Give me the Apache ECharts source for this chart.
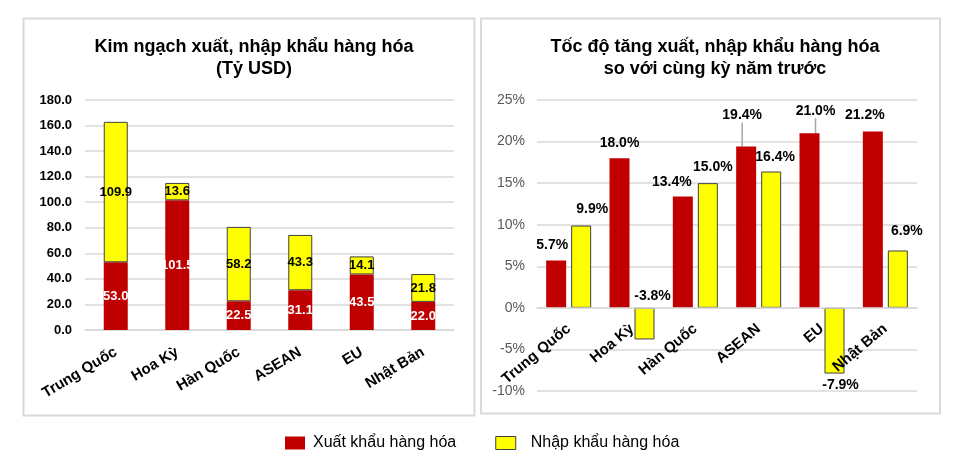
<!DOCTYPE html>
<html>
<head>
<meta charset="utf-8">
<script src="https://cdn.jsdelivr.net/npm/echarts@6/dist/echarts.min.js"></script>
<style>
html,body{margin:0;padding:0;background:#fff;}
#chart{width:959px;height:460px;}
</style>
</head>
<body>
<div id="chart"></div>
<script>
// ---- data ----
const categories = ['Trung Quốc', 'Hoa Kỳ', 'Hàn Quốc', 'ASEAN', 'EU', 'Nhật Bản'];
const exportValues = [53.0, 101.5, 22.5, 31.1, 43.5, 22.0];   // Tỷ USD
const importValues = [109.9, 13.6, 58.2, 43.3, 14.1, 21.8];   // Tỷ USD
const exportGrowth = [5.7, 18.0, 13.4, 19.4, 21.0, 21.2];     // %
const importGrowth = [9.9, -3.8, 15.0, 16.4, -7.9, 6.9];      // %
const leftTicks = [0, 20, 40, 60, 80, 100, 120, 140, 160, 180];
const rightTicks = [-10, -5, 0, 5, 10, 15, 20, 25];
const seriesNames = ['Xuất khẩu hàng hóa', 'Nhập khẩu hàng hóa'];
const titles = ['Kim ngạch xuất, nhập khẩu hàng hóa\n(Tỷ USD)', 'Tốc độ tăng xuất, nhập khẩu hàng hóa\nso với cùng kỳ năm trước'];

// ---- style (label nudges, Excel-like placement) ----
const redNudge = [[-4,-3],[0,-3],[-11,-2],[-4,-19],[6,-10],[-8,-4]];
const yellowNudge = [[11,-4],[8,0],[5,-4],[4,-2],[6,0],[9,-7]];
const yellowPos = ['top','top','top','top','bottom','top'];
const redLeader = [false,false,false,true,true,false];

const FONT = 'Arial, "Liberation Sans", sans-serif';
const RED = '#C00000', YELLOW = '#FFFF00', GRID = '#d9d9d9';

const rightGrid = { left: 537, width: 380, top: 100, height: 291 };
const rMin = rightTicks[0], rMax = rightTicks[rightTicks.length - 1];
// move the category axis of the right chart up to the 0% line
const zeroOffset = -((0 - rMin) / (rMax - rMin)) * rightGrid.height;

const chart = echarts.init(document.getElementById('chart'));

const option = {
  animation: false,
  backgroundColor: '#ffffff',
  textStyle: { fontFamily: FONT },
  graphic: [
    { type: 'rect', silent: true, z: -1, shape: { x: 23.5, y: 18.5, width: 451, height: 397 },
      style: { fill: 'none', stroke: GRID, lineWidth: 2 } },
    { type: 'rect', silent: true, z: -1, shape: { x: 481, y: 18.5, width: 459, height: 395 },
      style: { fill: 'none', stroke: GRID, lineWidth: 2 } }
  ],
  title: [
    { text: titles[0], left: 249, top: 31, textAlign: 'center',
      textStyle: { fontFamily: FONT, fontSize: 18, fontWeight: 'bold', color: '#000', lineHeight: 22 } },
    { text: titles[1], left: 710, top: 31, textAlign: 'center',
      textStyle: { fontFamily: FONT, fontSize: 18, fontWeight: 'bold', color: '#000', lineHeight: 22 } }
  ],
  legend: {
    data: [
      { name: seriesNames[0], itemStyle: { color: RED, borderWidth: 0 } },
      { name: seriesNames[1], itemStyle: { color: YELLOW, borderColor: '#404040', borderWidth: 1 },
        textStyle: { padding: [0, 0, 0, 10] } }
    ],
    left: 280, top: 430,
    itemWidth: 20, itemHeight: 13, itemGap: 39,
    icon: 'rect',
    textStyle: { fontFamily: FONT, fontSize: 16, color: '#000', padding: [0, 0, 0, 3] }
  },
  grid: [
    { left: 85, width: 369, top: 100, height: 230 },
    rightGrid
  ],
  xAxis: [
    { type: 'category', gridIndex: 0, data: categories,
      axisLine: { lineStyle: { color: GRID, width: 1.5 } }, axisTick: { show: false },
      axisLabel: { interval: 0, rotate: 31, margin: 21, fontFamily: FONT, fontSize: 15, fontWeight: 'bold', color: '#000' } },
    { type: 'category', gridIndex: 1, data: categories, offset: zeroOffset, z: 10,
      axisLine: { onZero: false, lineStyle: { color: GRID, width: 1.5 } }, axisTick: { show: false },
      axisLabel: { interval: 0, rotate: 40, margin: 19, fontFamily: FONT, fontSize: 15, fontWeight: 'bold', color: '#000' } }
  ],
  yAxis: [
    { type: 'value', gridIndex: 0, min: leftTicks[0], max: leftTicks[leftTicks.length - 1],
      interval: leftTicks[1] - leftTicks[0],
      axisLine: { show: false }, axisTick: { show: false },
      splitLine: { lineStyle: { color: GRID, width: 1.5 } },
      axisLabel: { margin: 13, fontFamily: FONT, fontSize: 13, fontWeight: 'bold', color: '#000',
        formatter: v => v.toFixed(1) } },
    { type: 'value', gridIndex: 1, min: rMin, max: rMax,
      interval: rightTicks[1] - rightTicks[0],
      axisLine: { show: false }, axisTick: { show: false },
      splitLine: { lineStyle: { color: GRID, width: 1.5 } },
      axisLabel: { margin: 12, fontFamily: FONT, fontSize: 14, color: '#595959',
        formatter: v => v + '%' } }
  ],
  series: [
    { name: seriesNames[0], type: 'bar', xAxisIndex: 0, yAxisIndex: 0, stack: 'kn',
      data: exportValues, barWidth: 24,
      itemStyle: { color: RED },
      label: { show: true, position: 'inside', color: '#fff', fontFamily: FONT, fontSize: 13, fontWeight: 'bold',
        formatter: p => p.value.toFixed(1) } },
    { name: seriesNames[1], type: 'bar', xAxisIndex: 0, yAxisIndex: 0, stack: 'kn',
      data: importValues, barWidth: 24,
      itemStyle: { color: YELLOW, borderColor: '#404040', borderWidth: 1 },
      label: { show: true, position: 'inside', color: '#000', fontFamily: FONT, fontSize: 13, fontWeight: 'bold',
        formatter: p => p.value.toFixed(1) } },
    { name: seriesNames[0], type: 'bar', xAxisIndex: 1, yAxisIndex: 1,
      data: exportGrowth.map((v, i) => ({ value: v, labelLine: { show: redLeader[i] } })),
      barWidth: 20, barGap: '25%',
      itemStyle: { color: RED },
      label: { show: true, position: 'top', distance: 5, color: '#000', fontFamily: FONT, fontSize: 14, fontWeight: 'bold',
        formatter: p => p.value.toFixed(1) + '%' },
      labelLine: { show: false, lineStyle: { color: '#a6a6a6', width: 1.5 } },
      labelLayout: p => ({ dx: redNudge[p.dataIndex][0], dy: redNudge[p.dataIndex][1] }) },
    { name: seriesNames[1], type: 'bar', xAxisIndex: 1, yAxisIndex: 1,
      data: importGrowth.map((v, i) => ({ value: v, label: { position: yellowPos[i] } })),
      barWidth: 20, barGap: '25%',
      itemStyle: { color: YELLOW, borderColor: '#404040', borderWidth: 1 },
      label: { show: true, distance: 5, color: '#000', fontFamily: FONT, fontSize: 14, fontWeight: 'bold',
        formatter: p => p.value.toFixed(1) + '%' },
      labelLayout: p => ({ dx: yellowNudge[p.dataIndex][0], dy: yellowNudge[p.dataIndex][1] }) }
  ]
};

chart.setOption(option);
</script>
</body>
</html>
